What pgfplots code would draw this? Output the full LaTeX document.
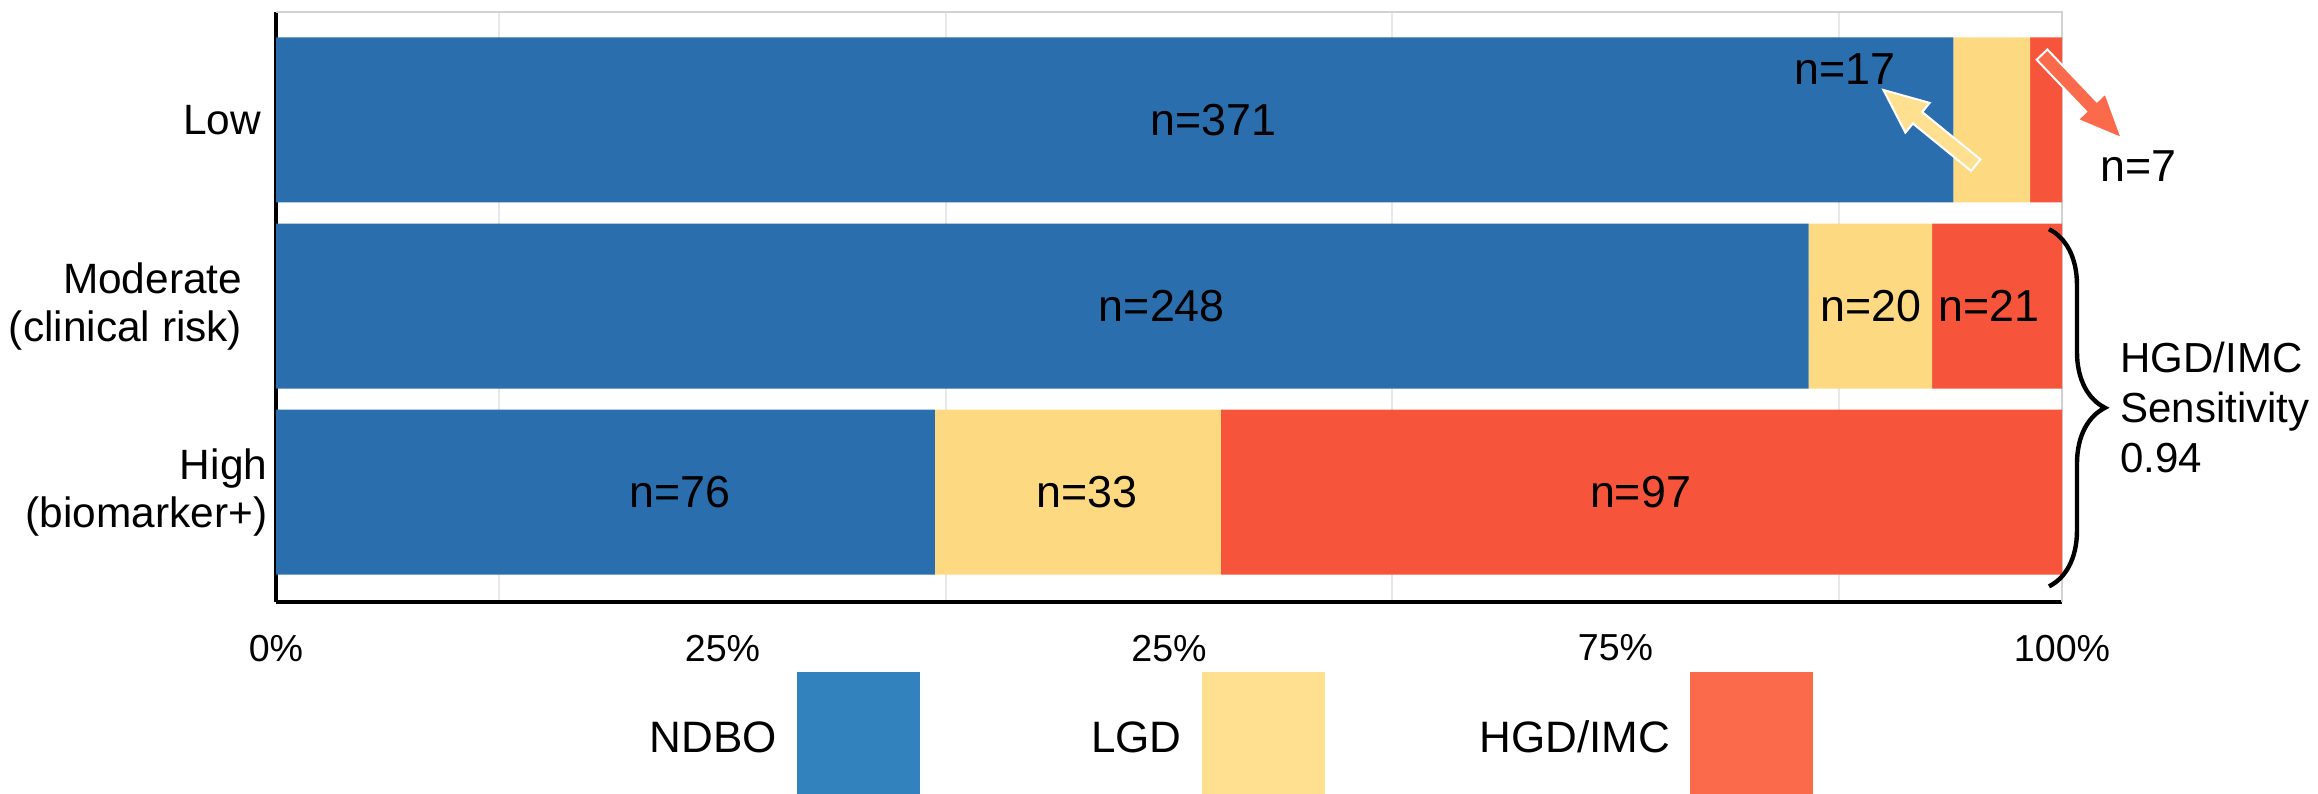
\documentclass[border=0pt]{standalone}
\usepackage{pgfplots}
\pgfplotsset{compat=1.18}
\usepackage{fontspec}
\setmainfont{Liberation Sans}
\usetikzlibrary{calc,decorations.pathreplacing}
\definecolor{barblue}{RGB}{42,110,174}
\definecolor{baryellow}{RGB}{253,217,130}
\definecolor{barred}{RGB}{246,85,60}
\definecolor{legblue}{RGB}{49,130,189}
\definecolor{legyellow}{RGB}{254,224,144}
\definecolor{legred}{RGB}{251,106,74}
\definecolor{gridgray}{RGB}{232,232,232}
\definecolor{framegray}{RGB}{210,210,210}

\newcommand{\blockarrow}[4]{%
  \coordinate (#4c) at ($(#3)!11pt!(#2)$);
  \filldraw[fill=#1, draw=white, line width=0.5pt, line join=miter]
    ($(#2)!1.85pt!90:(#3)$) -- ($(#4c)!1.85pt!90:(#3)$) -- ($(#4c)!4.8pt!90:(#3)$) -- (#3)
    -- ($(#4c)!4.8pt!-90:(#3)$) -- ($(#4c)!1.85pt!-90:(#3)$) -- ($(#2)!1.85pt!-90:(#3)$) -- cycle;
}

\begin{document}
\begin{tikzpicture}
\begin{axis}[
  scale only axis, width=446.5pt, height=147.5pt,
  xbar stacked, bar width=0.887,
  xmin=0, xmax=100, ymin=0.41, ymax=3.58, enlargelimits=false,
  axis x line*=bottom, axis y line*=left,
  axis line style={-, black, line width=0.8pt},
  xtick={0,25,50,75,100}, xticklabels={0\%,25\%,25\%,75\%,100\%},
  minor xtick={12.5,37.5,62.5,87.5}, xminorgrids,
  minor grid style={gridgray, line width=0.5pt},
  major tick length=0pt, minor tick length=0pt,
  ytick={1,2,3},
  yticklabels={{High\\(biomarker+)},{Moderate\kern6.25pt\\(clinical risk)\kern6.25pt},{Low\kern1.5pt}},
  xticklabel style={font=\fontsize{9.4}{11}\selectfont, inner sep=0pt, anchor=north, yshift=-8pt},
  yticklabel style={font=\fontsize{10.6}{12}\selectfont, align=right, inner sep=0pt, anchor=east, xshift=-2pt},
  clip=false,
  legend plot pos=right,
  legend columns=3,
  legend style={at={(0.2094,-0.1186)}, anchor=north west, draw=none, fill=none,
    inner sep=0pt, outer sep=0pt,
    nodes={inner sep=0pt, font=\fontsize{11}{13}\selectfont},
    /tikz/every odd column/.append style={column sep=5pt},
    /tikz/every even column/.append style={column sep=38.75pt}},
]
\addplot[fill=barblue, draw=none,
  legend image code/.code={\fill[legblue] (0pt,-17pt) rectangle (30.75pt,17pt);}]
  coordinates {(36.89,1) (85.81,2) (93.92,3)};
\addlegendentry{NDBO}
\addplot[fill=baryellow, draw=none,
  legend image code/.code={\fill[legyellow] (0pt,-17pt) rectangle (30.75pt,17pt);}]
  coordinates {(16.02,1) (6.92,2) (4.30,3)};
\addlegendentry{\hspace{4pt}LGD}
\addplot[fill=barred, draw=none,
  legend image code/.code={\fill[legred] (0pt,-17pt) rectangle (30.75pt,17pt);}]
  coordinates {(47.09,1) (7.27,2) (1.78,3)};
\addlegendentry{HGD/IMC}

\draw[framegray, line width=0.5pt] (rel axis cs:0,1) -- (rel axis cs:1,1) -- (rel axis cs:1,0);

\coordinate (l371) at (axis cs:52.5,3);
\coordinate (l17)  at (axis cs:87.85,3.274);
\coordinate (l7)   at (axis cs:104.3,2.752);
\coordinate (l248) at (axis cs:49.6,2);
\coordinate (l20)  at (axis cs:89.3,2);
\coordinate (l21)  at (axis cs:95.9,2);
\coordinate (l76)  at (axis cs:22.6,1);
\coordinate (l33)  at (axis cs:45.4,1);
\coordinate (l97)  at (axis cs:76.4,1);

\coordinate (yt) at (axis cs:95.17,2.757);
\coordinate (yh) at (axis cs:90.0,3.161);
\coordinate (rt) at (axis cs:98.88,3.351);
\coordinate (rh) at (axis cs:103.35,2.901);
\coordinate (bt) at (axis cs:99.27,2.413);
\coordinate (bb) at (axis cs:99.27,0.494);
\coordinate (ann) at (axis cs:103.22,1.456);
\end{axis}

\begin{scope}[every node/.style={font=\fontsize{11.2}{13}\selectfont, inner sep=0pt}]
\node at (l371) {n=371};
\node at (l17) {n=17};
\node at (l7) {n=7};
\node at (l248) {n=248};
\node at (l20) {n=20};
\node at (l21) {n=21};
\node at (l76) {n=76};
\node at (l33) {n=33};
\node at (l97) {n=97};
\end{scope}
\node[anchor=west, align=left, inner sep=0pt, font=\fontsize{10.5}{12.5}\selectfont]
  at (ann) {HGD/IMC\\Sensitivity\\0.94};

\blockarrow{legyellow}{yt}{yh}{ya}
\blockarrow{legred}{rt}{rh}{ra}
\draw[decorate, decoration={brace, amplitude=14pt}, line width=1.1pt] (bt) -- (bb);

\pgfresetboundingbox
\path[use as bounding box] (-69pt,-47.75pt) rectangle (510.5pt,150.5pt);
\end{tikzpicture}
\end{document}
